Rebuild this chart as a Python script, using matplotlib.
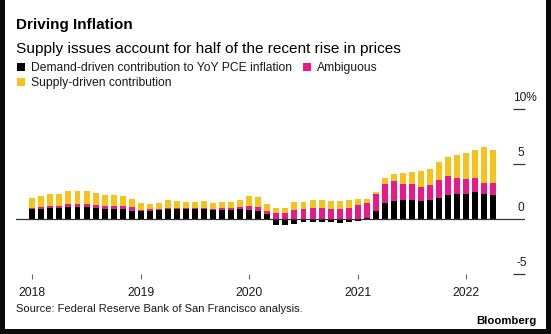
import matplotlib
matplotlib.use('Agg')
import matplotlib.pyplot as plt
import pandas as pd
from matplotlib.patches import Rectangle

W, H = 551, 334

# monthly, Jan 2018 - Apr 2022, contributions to YoY PCE inflation (pct points)
months = pd.date_range('2018-01-01', '2022-04-01', freq='MS')
demand = [0.83, 0.89, 0.92, 0.92, 1.04, 1.07, 1.07, 0.98, 0.83, 0.89, 0.83, 0.67,
          0.67, 0.73, 0.80, 0.90, 0.88, 0.83, 0.83, 0.85, 0.80, 0.82, 0.82, 0.85,
          0.80, 0.70, 0.45, -0.55, -0.55, -0.45, -0.33, -0.33, -0.33, -0.35, -0.40, -0.30,
          -0.20, 0.05, 0.69, 1.39, 1.60, 1.69, 1.66, 1.60, 1.66, 1.91, 2.12, 2.21,
          2.27, 2.42, 2.27, 2.12]
ambiguous = [0.15, 0.18, 0.21, 0.21, 0.25, 0.28, 0.28, 0.30, 0.30, 0.30, 0.30, 0.35,
             0.10, 0.10, 0.08, 0.10, 0.10, 0.10, 0.10, 0.12, 0.10, 0.10, 0.12, 0.20,
             0.30, 0.35, 0.25, 0.50, 0.50, 0.80, 0.90, 0.93, 0.93, 0.85, 0.85, 1.00,
             1.20, 1.34, 1.52, 1.73, 1.82, 1.49, 1.46, 1.31, 1.37, 1.57, 1.75, 1.52,
             1.37, 1.31, 1.00, 1.09]
supply = [0.85, 0.97, 1.14, 1.14, 1.20, 1.19, 1.19, 1.04, 1.00, 1.00, 0.92, 0.80,
          0.67, 0.52, 0.56, 0.65, 0.62, 0.56, 0.56, 0.63, 0.48, 0.57, 0.55, 0.65,
          0.92, 0.90, 0.65, 0.50, 0.50, 0.70, 0.60, 0.73, 0.79, 0.75, 0.75, 0.70,
          0.60, 0.36, 0.20, 0.61, 0.67, 1.00, 1.12, 1.42, 1.52, 1.67, 1.77, 2.02,
          2.30, 2.51, 3.28, 3.03]

year_labels = ['2018', '2019', '2020', '2021', '2022']
y_ticks = [10, 5, 0, -5]
y_labels = ['10%', '5', '0', '-5']

BLACK = '#000000'
PINK = '#e8198b'
YELLOW = '#f6c21c'
TXT = '#1a1a1a'

plt.rcParams['font.family'] = ['Liberation Sans', 'DejaVu Sans']

fig = plt.figure(figsize=(W / 100, H / 100), dpi=100)
fig.patch.set_facecolor('white')


def fx(px):
    return px / W


def fy(py):
    return 1 - py / H


# plot area in pixels: x 16..525, y 90..274.3; zero at y=218.6, 11 px per pct
ax = fig.add_axes([fx(16), fy(274.3), (525 - 16) / W, (274.3 - 90) / H])
x = list(range(len(months)))
ax.set_xlim((16 - 32.3) / 9.04, (525 - 32.3) / 9.04)
ax.set_ylim((218.6 - 274.3) / 11, (218.6 - 90) / 11)

pink_base = [d if d > 0 else 0 for d in demand]
yellow_base = [b + a for b, a in zip(pink_base, ambiguous)]
bw = 0.66
ax.bar(x, demand, width=bw, color=BLACK, linewidth=0)
ax.bar(x, ambiguous, bottom=pink_base, width=bw, color=PINK, linewidth=0)
ax.bar(x, supply, bottom=yellow_base, width=bw, color=YELLOW, linewidth=0)

ax.axhline(0, color='#333333', lw=0.9, zorder=3)
dash0, dash1 = (513.3 - 32.3) / 9.04, (525 - 32.3) / 9.04
for v, lab in zip(y_ticks, y_labels):
    if v != 0:
        ax.hlines(v, dash0, dash1, color='#333333', lw=0.9, clip_on=False)
    if lab.endswith('%'):
        ax.text(dash0 - 0.05, v + 0.66, lab, ha='left', va='baseline',
                fontsize=8.6, color=TXT, clip_on=False)
    else:
        ax.text((521.3 - 32.3) / 9.04, v + 0.66, lab, ha='center', va='baseline',
                fontsize=8.6, color=TXT, clip_on=False)

ax.axis('off')

# year ticks and labels
for i, yl in enumerate(year_labels):
    xi = i * 12
    ax.vlines(xi, (218.6 - 274.3) / 11, (218.6 - 279.3) / 11,
              color='#666666', lw=0.8, clip_on=False)
    ax.text(xi, (218.6 - 296.5) / 11, yl, ha='center', va='baseline',
            fontsize=8.7, color=TXT, clip_on=False)

# titles
fig.text(fx(16.5), fy(29.2), 'Driving Inflation', fontsize=11, fontweight='bold',
         color='black', va='baseline')
fig.text(fx(16.5), fy(52.6), 'Supply issues account for half of the recent rise in prices',
         fontsize=11.1, color='black', va='baseline')

# legend
def legend_item(px, py, color, label):
    fig.patches.append(Rectangle((fx(px), fy(py + 3.85)), 7.7 / W, 7.7 / H,
                                 transform=fig.transFigure, color=color, lw=0))
    fig.text(fx(px + 14), fy(py + 4.1), label, fontsize=8.7, color=TXT, va='baseline')


legend_item(16.9, 67.2, BLACK, 'Demand-driven contribution to YoY PCE inflation')
legend_item(302.9, 67.2, PINK, 'Ambiguous')
legend_item(16.9, 82.2, YELLOW, 'Supply-driven contribution')

# footer
fig.text(fx(16.5), fy(312.5), 'Source: Federal Reserve Bank of San Francisco analysis.',
         fontsize=8.0, color=TXT, va='baseline')
fig.text(fx(536.5), fy(324.5), 'Bloomberg', fontsize=8.2, fontweight='bold',
         color='black', ha='right', va='baseline')

# dark screenshot frame
for r in [(0, 0, 5, H), (546, 0, 5, H), (0, 329, W, 5)]:
    fig.patches.append(Rectangle((fx(r[0]), fy(r[1] + r[3])), r[2] / W, r[3] / H,
                                 transform=fig.transFigure, color='#0a0a0a', lw=0))

fig.savefig('out.png', dpi=100)
